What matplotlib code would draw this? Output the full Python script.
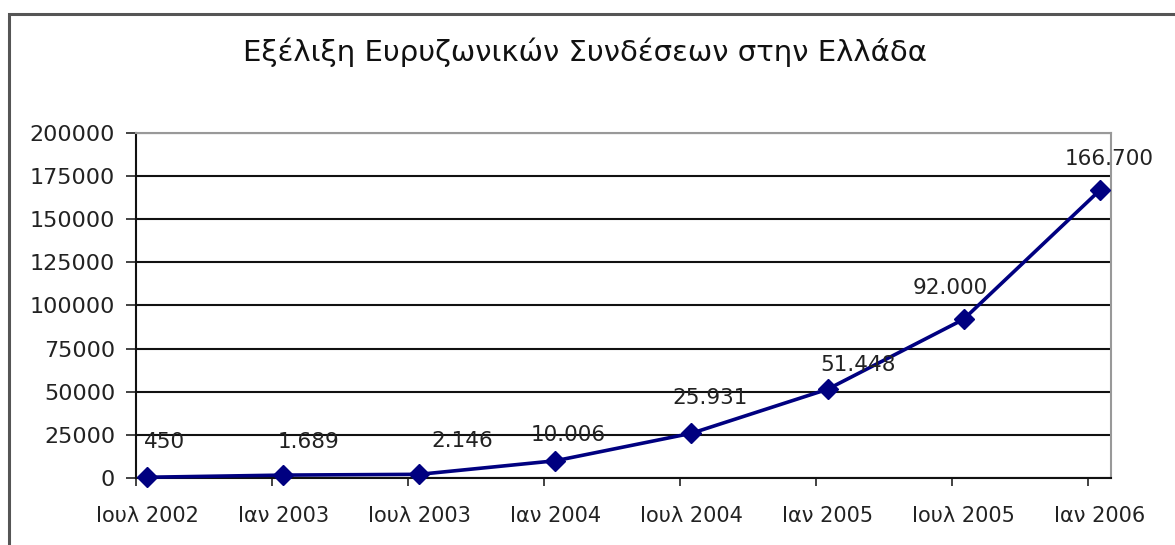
import matplotlib.pyplot as plt
from matplotlib.patches import Rectangle
import numpy as np

# Δεδομένα
mhnes = ["2002-07", "2003-01", "2003-07", "2004-01", "2004-07", "2005-01", "2005-07", "2006-01"]
etiketes_x = ["Ιουλ 2002", "Ιαν 2003", "Ιουλ 2003", "Ιαν 2004", "Ιουλ 2004", "Ιαν 2005", "Ιουλ 2005", "Ιαν 2006"]
syndeseis = [450, 1689, 2146, 10006, 25931, 51448, 92000, 166700]
titlos = "Εξέλιξη Ευρυζωνικών Συνδέσεων στην Ελλάδα"

# μετατόπιση ετικετών τιμών (pixels)
offsets = [(17, 35), (25, 33), (43, 33), (13, 26), (19, 35), (31, 24), (-13, 31), (10, 31)]

plt.rcParams['font.family'] = ['DejaVu Sans']

# θέση σε μήνες από Ιουλ 2002 (κέντρο μήνα, όπως στον άξονα ημερομηνιών του Excel)
def thesi_mhna(s):
    etos, mhnas = s.split("-")
    return (int(etos) - 2002) * 12 + int(mhnas) - 7

x = np.array([thesi_mhna(m) for m in mhnes]) + 0.5
n_mhnes = thesi_mhna(mhnes[-1]) + 1

fig = plt.figure(figsize=(11.75, 5.45), dpi=100)
ax = fig.add_axes([0.1157, 0.1229, 0.8298, 0.6331])

ax.plot(x, syndeseis, color="#000080", linewidth=2.6, marker="D", markersize=10,
        zorder=3, clip_on=False)

for xi, yi, (dx, dy) in zip(x, syndeseis, offsets):
    ax.annotate(f"{yi:,}".replace(",", "."), (xi, yi), xytext=(dx, dy),
                textcoords="offset pixels", ha="center", va="center",
                fontsize=15.5, color="#222222")

ax.set_xlim(0, n_mhnes)
ax.set_ylim(0, 200000)
ax.set_yticks(np.arange(0, 200001, 25000))
ax.set_yticklabels([str(v) for v in range(0, 200001, 25000)])

# σημάδια στα όρια εξαμήνων, ετικέτες στο κέντρο
ax.set_xticks(np.arange(0, n_mhnes, 6))
ax.set_xticklabels([])
ax.set_xticks(x, minor=True)
ax.set_xticklabels(etiketes_x, minor=True)
ax.tick_params(axis="x", which="major", direction="out", length=6, width=1.2, color="#222222")
ax.tick_params(axis="x", which="minor", length=0, pad=20, labelsize=15, labelcolor="#222222")
ax.tick_params(axis="y", direction="out", length=7, width=1.2, pad=8,
               labelsize=16, labelcolor="#222222", color="#222222")

ax.set_axisbelow(True)
ax.yaxis.grid(True, color="#111111", linewidth=1.5)
for s in ["left", "bottom"]:
    ax.spines[s].set_color("#111111")
    ax.spines[s].set_linewidth(1.5)
for s in ["top", "right"]:
    ax.spines[s].set_color("#999999")
    ax.spines[s].set_linewidth(1.5)

fig.text(0.498, 0.905, titlos, ha="center", va="center", fontsize=21, color="#111111")

# πλαίσιο γραφήματος
W, H = fig.get_size_inches() * fig.dpi
fig.patches.append(Rectangle((9 / W, -0.2), 1.2, 1.2 - 14 / H, transform=fig.transFigure,
                             fill=False, edgecolor="#555555", linewidth=2.2))

fig.savefig("out.png", dpi=100)
